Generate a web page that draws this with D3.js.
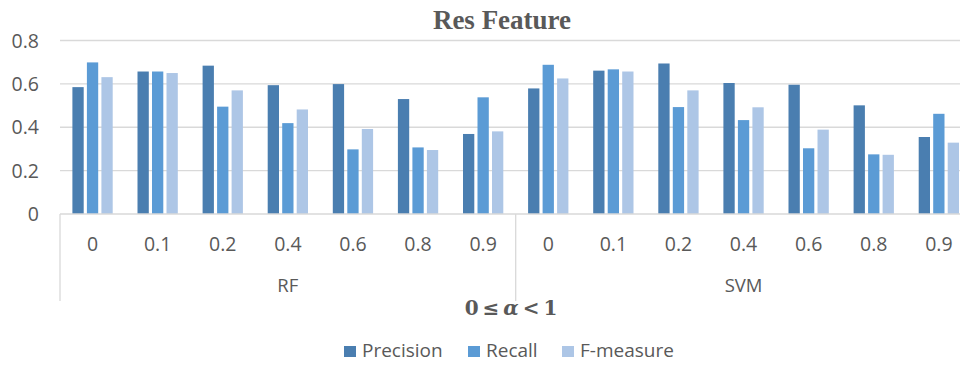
<!DOCTYPE html>
<html>
<head>
<meta charset="utf-8">
<script src="https://cdn.jsdelivr.net/npm/d3@7"></script>
<style>
  html, body { margin: 0; padding: 0; background: #fff; }
  svg { display: block; }
</style>
</head>
<body>
<svg id="chart" width="960" height="367"></svg>
<script>
// Classifiers (outer category level) and alpha values (inner level)
const classifiers = ["RF", "SVM"];
const alphas = ["0", "0.1", "0.2", "0.4", "0.6", "0.8", "0.9"];
const seriesNames = ["Precision", "Recall", "F-measure"];
const seriesColors = ["#4a7eb0", "#5b9bd5", "#adc6e6"];
const yTicks = [0, 0.2, 0.4, 0.6, 0.8];

// Scores per alpha, RF first then SVM
const precision = [0.585, 0.657, 0.684, 0.594, 0.599, 0.530, 0.369,
                   0.579, 0.661, 0.694, 0.604, 0.596, 0.501, 0.355];
const recall    = [0.699, 0.657, 0.495, 0.419, 0.298, 0.307, 0.538,
                   0.688, 0.667, 0.493, 0.433, 0.303, 0.275, 0.462];
const fmeasure  = [0.631, 0.650, 0.570, 0.482, 0.392, 0.295, 0.381,
                   0.625, 0.657, 0.570, 0.492, 0.389, 0.273, 0.329];

const seriesValues = [precision, recall, fmeasure];
const rows = [];
classifiers.forEach((c, ci) => alphas.forEach((a, ai) => rows.push({ clf: c, alpha: a, idx: ci * alphas.length + ai })));

const svg = d3.select("#chart");
const textColor = "#595959";
const gridColor = "#d9d9d9";
const sans = "'Open Sans', 'Liberation Sans', sans-serif";

const plotLeft = 60, plotRight = 971.4, plotTop = 40.5, plotBottom = 214;

const x = d3.scaleBand().domain(rows.map(r => r.idx)).range([plotLeft, plotRight]).paddingInner(0).paddingOuter(0);
const groupPad = 12.4;
const xs = d3.scaleBand().domain(d3.range(seriesNames.length))
  .range([groupPad, x.bandwidth() - groupPad]).paddingInner(0.221).paddingOuter(0);
const y = d3.scaleLinear().domain([0, 0.8]).range([plotBottom, plotTop]);

// Title
svg.append("text")
  .attr("x", 502).attr("y", 29)
  .attr("text-anchor", "middle")
  .attr("font-family", "'Liberation Serif', 'Times New Roman', serif")
  .attr("font-weight", "bold").attr("font-size", 27)
  .attr("fill", textColor)
  .text("Res Feature");

// Gridlines
svg.append("g").selectAll("line")
  .data(yTicks.filter(t => t > 0))
  .join("line")
  .attr("x1", plotLeft).attr("x2", plotRight)
  .attr("y1", d => y(d)).attr("y2", d => y(d))
  .attr("stroke", gridColor).attr("stroke-width", 1.3);

// Y tick labels
svg.append("g").selectAll("text")
  .data(yTicks)
  .join("text")
  .attr("x", 39).attr("y", d => y(d))
  .attr("dy", "0.36em")
  .attr("text-anchor", "end")
  .attr("font-family", sans).attr("font-size", 19.5)
  .attr("fill", textColor)
  .text(d => d === 0 ? "0" : d3.format(".1f")(d));

// Bars
const groups = svg.append("g").selectAll("g")
  .data(rows)
  .join("g")
  .attr("transform", d => `translate(${x(d.idx)},0)`);

groups.selectAll("rect")
  .data(d => seriesValues.map((vals, si) => ({ si, v: vals[d.idx] })))
  .join("rect")
  .attr("x", d => xs(d.si))
  .attr("width", xs.bandwidth())
  .attr("y", d => y(d.v))
  .attr("height", d => y(0) - y(d.v))
  .attr("fill", d => seriesColors[d.si]);

// Category axis line
svg.append("line")
  .attr("x1", plotLeft).attr("x2", plotRight)
  .attr("y1", plotBottom).attr("y2", plotBottom)
  .attr("stroke", gridColor).attr("stroke-width", 1.3);

// Group separators on the category axis
const sepX = [plotLeft, x(alphas.length)];
svg.append("g").selectAll("line")
  .data(sepX)
  .join("line")
  .attr("x1", d => d).attr("x2", d => d)
  .attr("y1", plotBottom).attr("y2", 301)
  .attr("stroke", gridColor).attr("stroke-width", 1.3);

// Inner category labels (alpha)
svg.append("g").selectAll("text")
  .data(rows)
  .join("text")
  .attr("x", d => x(d.idx) + x.bandwidth() / 2)
  .attr("y", 251)
  .attr("text-anchor", "middle")
  .attr("font-family", sans).attr("font-size", 19.5)
  .attr("fill", textColor)
  .text(d => d.alpha);

// Outer category labels (classifier)
svg.append("g").selectAll("text")
  .data(classifiers)
  .join("text")
  .attr("x", (d, i) => {
    const a = x(i * alphas.length);
    const b = x((i + 1) * alphas.length - 1) + x.bandwidth();
    return (a + b) / 2;
  })
  .attr("y", 292)
  .attr("text-anchor", "middle")
  .attr("font-family", sans).attr("font-size", 18.5)
  .attr("fill", textColor)
  .text(d => d);

// Axis title
const axisTitle = svg.append("text")
  .attr("x", 511).attr("y", 315)
  .attr("text-anchor", "middle")
  .attr("font-family", "'DejaVu Serif', 'Liberation Serif', serif")
  .attr("font-weight", "bold").attr("font-size", 20)
  .attr("fill", textColor);
axisTitle.append("tspan").text("0\u2009≤\u2009");
axisTitle.append("tspan").attr("font-style", "italic").text("α");
axisTitle.append("tspan").text("\u2009<\u20091");

// Legend
const legendItems = [
  { name: seriesNames[0], sx: 344 },
  { name: seriesNames[1], sx: 468 },
  { name: seriesNames[2], sx: 562 }
];
const legend = svg.append("g").selectAll("g")
  .data(legendItems)
  .join("g")
  .attr("transform", d => `translate(${d.sx},0)`);
legend.append("rect")
  .attr("x", 0).attr("y", 346).attr("width", 12).attr("height", 11)
  .attr("fill", (d, i) => seriesColors[i]);
legend.append("text")
  .attr("x", 18).attr("y", 357)
  .attr("font-family", sans).attr("font-size", 19)
  .attr("fill", textColor)
  .text(d => d.name);
</script>
</body>
</html>
